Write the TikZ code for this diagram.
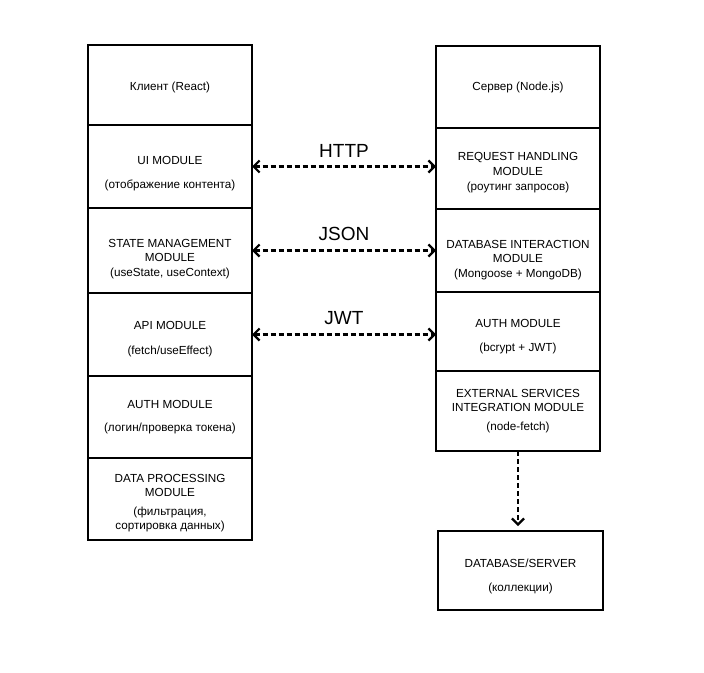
\documentclass[tikz,border=0pt]{standalone}
\usepackage{fontspec}
\setmainfont{Liberation Sans}
\usetikzlibrary{arrows.meta}
\newcommand\pushdown[1]{\rule{0pt}{#1pt}}

\begin{document}
\begin{tikzpicture}[x=1pt,y=-1pt,
		modbox/.style={draw=black, line width=2.4pt, minimum width=164pt, inner sep=0pt, outer sep=0pt, align=center, font=\fontsize{11.7}{14.5}\selectfont},
		link/.style={line width=2.2pt, dash pattern=on 5pt off 3pt, >={Straight Barb[length=6pt,width=12pt,line width=2.2pt]}},
		proto/.style={midway, above=5pt, font=\fontsize{19}{21}\selectfont}]
		\useasboundingbox (0,0) rectangle (704,672);

		% client side
		\node[modbox, minimum height=80pt] (client) at (170,85) {\pushdown{12.5}Клиент (React)};
		\node[modbox, minimum height=83pt] (ui) at (170,166.5) {\pushdown{22.5}UI MODULE\\[10pt](отображение контента)};
		\node[modbox, minimum height=85pt] (state) at (170,250.5) {\pushdown{24.5}STATE MANAGEMENT\\MODULE\\(useState, useContext)};
		\node[modbox, minimum height=83pt] (api) at (170,334.5) {\pushdown{17.5}API MODULE\\[10pt](fetch/useEffect)};
		\node[modbox, minimum height=82pt] (auth) at (170,417) {AUTH MODULE\\[8pt](логин/проверка токена)};
		\node[modbox, minimum height=82pt] (proc) at (170,499) {\pushdown{16.5}DATA PROCESSING\\MODULE\\[4pt](фильтрация,\\сортировка данных)};

		% server side
		\node[modbox, minimum height=82pt] (server) at (518,87) {Сервер (Node.js)};
		\node[modbox, minimum height=81pt] (req) at (518,168.5) {\pushdown{16.5}REQUEST HANDLING\\MODULE\\[1pt](роутинг запросов)};
		\node[modbox, minimum height=83pt] (dbint) at (518,250.5) {\pushdown{26.5}DATABASE INTERACTION\\MODULE\\(Mongoose + MongoDB)};
		\node[modbox, minimum height=79pt] (srvauth) at (518,331.5) {\pushdown{18.5}AUTH MODULE\\[10pt](bcrypt + JWT)};
		\node[modbox, minimum height=80pt] (ext) at (518,411) {EXTERNAL SERVICES\\INTEGRATION MODULE\\[4pt](node-fetch)};
		\node[modbox, minimum height=79pt, minimum width=165pt] (db) at (520.5,570.5) {\pushdown{20.5}DATABASE/SERVER\\[10pt](коллекции)};

		\draw[link,<->] (ui.east) -- (ui.east -| req.west) node[proto] {HTTP};
		\draw[link,<->] (state.east) -- (state.east -| dbint.west) node[proto] {JSON};
		\draw[link,<->] (api.east) -- (api.east -| srvauth.west) node[proto] {JWT};
		\draw[link,->,shorten >=5pt] (ext.south) -- (ext.south |- db.north);
	\end{tikzpicture}
\end{document}
